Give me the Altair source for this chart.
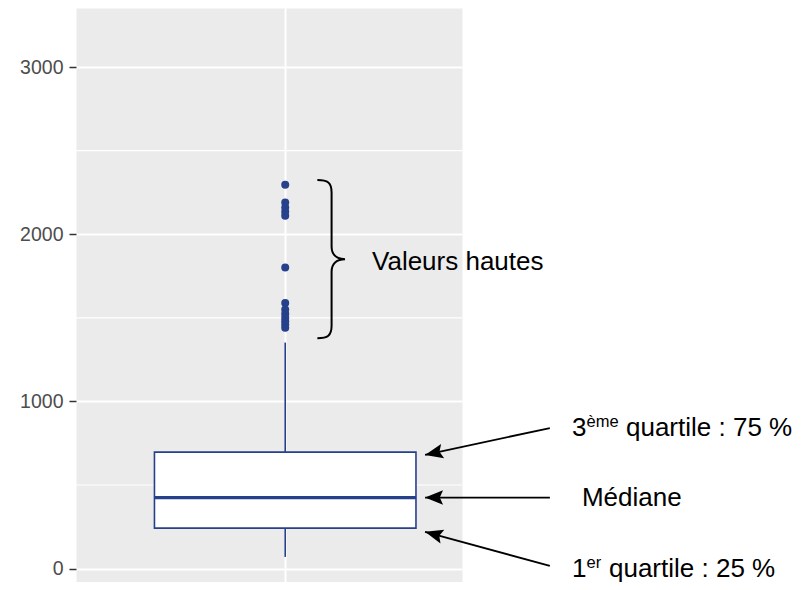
import math
import altair as alt
import pandas as pd

# ---------------- data ----------------
whisker_low = 70
q1 = 242
median = 425
q3 = 697
whisker_high = 1352
outliers = [2296, 2190, 2160, 2135, 2110, 1801, 1588, 1550, 1525, 1500, 1480, 1460, 1440]

category_pos = 1.0      # single discrete position of the box
box_half = 0.375        # half of the box width (data units)

y_major = [0, 1000, 2000, 3000]
y_minor = [500, 1500, 2500]

# annotation texts
txt_high = "Valeurs hautes"
txt_median = "Médiane"
q3_parts = ["3", "ème", "quartile : 75 %"]
q1_parts = ["1", "er", "quartile : 25 %"]

# ---------------- layout ----------------
W, H = 386, 574
x_dom = [0.4, 1.507]
y_dom = [-80, 3353]
kx = W / (x_dom[1] - x_dom[0])
ky = H / (y_dom[1] - y_dom[0])

x_scale = alt.Scale(domain=x_dom, nice=False, zero=False)
y_scale = alt.Scale(domain=y_dom, nice=False, zero=False)

x_axis = alt.Axis(values=[category_pos], grid=True, gridColor="white", gridWidth=2,
                  domain=False, labels=False, tickColor="#333333", tickSize=7,
                  tickWidth=1.5, title=None)
y_axis = alt.Axis(values=y_major, grid=True, gridColor="white", gridWidth=2,
                  domain=False, tickColor="#333333", tickSize=7, tickWidth=1.5,
                  labelFont="Liberation Sans", labelFontSize=19.5, labelColor="#4D4D4D",
                  labelPadding=6, title=None, format="d")

BLUE = "#27408B"
FONT = "Liberation Sans"
FS = 26

# ---------------- layers ----------------
minor = pd.DataFrame({"v": y_minor})
grid_layer = alt.Chart(minor).mark_rule(color="white", strokeWidth=1.2).encode(
    y=alt.Y("v:Q", scale=y_scale, axis=y_axis)
)

whisk = pd.DataFrame({
    "x": [category_pos, category_pos],
    "y": [whisker_low, q3],
    "y2": [q1, whisker_high],
})
whisker_layer = alt.Chart(whisk).mark_rule(color=BLUE, strokeWidth=1.6).encode(
    x=alt.X("x:Q", scale=x_scale, axis=x_axis),
    y=alt.Y("y:Q", scale=y_scale, axis=y_axis),
    y2="y2:Q",
)

box = pd.DataFrame({"x": [category_pos - box_half], "x2": [category_pos + box_half],
                    "y": [q1], "y2": [q3]})
box_layer = alt.Chart(box).mark_rect(fill="white", stroke=BLUE, strokeWidth=1.6).encode(
    x=alt.X("x:Q", scale=x_scale, axis=x_axis), x2="x2:Q",
    y=alt.Y("y:Q", scale=y_scale, axis=y_axis), y2="y2:Q",
)

med = pd.DataFrame({"x": [category_pos - box_half], "x2": [category_pos + box_half],
                    "y": [median]})
median_layer = alt.Chart(med).mark_rule(color=BLUE, strokeWidth=3.2).encode(
    x=alt.X("x:Q", scale=x_scale, axis=x_axis), x2="x2:Q",
    y=alt.Y("y:Q", scale=y_scale, axis=y_axis),
)

outl = pd.DataFrame({"x": [category_pos] * len(outliers), "y": outliers})
outlier_layer = alt.Chart(outl).mark_circle(color=BLUE, size=64, opacity=1).encode(
    x=alt.X("x:Q", scale=x_scale, axis=x_axis),
    y=alt.Y("y:Q", scale=y_scale, axis=y_axis),
)

# curly brace spanning the high values
brace_top, brace_bottom = 2324, 1378
brace_x = 1.133
brace_half_px = (brace_top - brace_bottom) / 2 * ky
brace_path = ("M-0.18,-1 C-0.05,-1 0,-0.97 0,-0.84 L0,-0.16 C0,-0.05 0.07,0 0.17,0 "
              "C0.07,0 0,0.05 0,0.16 L0,0.84 C0,0.97 -0.05,1 -0.18,1")
brace = pd.DataFrame({"x": [brace_x], "y": [(brace_top + brace_bottom) / 2]})
brace_layer = alt.Chart(brace).mark_point(
    shape=brace_path, filled=False, color="black", strokeWidth=2, opacity=1,
    size=(2 * brace_half_px) ** 2,
).encode(
    x=alt.X("x:Q", scale=x_scale, axis=x_axis),
    y=alt.Y("y:Q", scale=y_scale, axis=y_axis),
)

# arrows towards the box
tip_x = category_pos + box_half + 0.026
tail_x = 1.759
arr = pd.DataFrame({
    "x": [tail_x, tail_x, tail_x],
    "y": [841, median, 16],
    "x2": [tip_x, tip_x, tip_x],
    "y2": [q3 - 17, median, q1 - 22],
})
arr["angle"] = [
    math.degrees(math.atan2(-(r.y2 - r.y) * ky, (r.x2 - r.x) * kx)) % 360
    for r in arr.itertuples()
]
shaft_layer = alt.Chart(arr).mark_rule(color="black", strokeWidth=1.8).encode(
    x=alt.X("x:Q", scale=x_scale, axis=x_axis), x2="x2:Q",
    y=alt.Y("y:Q", scale=y_scale, axis=y_axis), y2="y2:Q",
)
head_layer = alt.Chart(arr).mark_point(
    shape="M0,0 L-1,-0.4 L-0.82,0 L-1,0.4 Z", filled=True, color="black",
    opacity=1, size=1296,
).encode(
    x=alt.X("x2:Q", scale=x_scale, axis=x_axis),
    y=alt.Y("y2:Q", scale=y_scale, axis=y_axis),
    angle=alt.Angle("angle:Q", scale=None),
)

# texts
main_txt = pd.DataFrame({
    "t": [txt_high, txt_median],
    "x": [1.2489, 1.851],
    "y": [1786, 374],
})
main_text_layer = alt.Chart(main_txt).mark_text(
    align="left", baseline="alphabetic", font=FONT, fontSize=FS, color="black"
).encode(
    x=alt.X("x:Q", scale=x_scale, axis=x_axis),
    y=alt.Y("y:Q", scale=y_scale, axis=y_axis),
    text="t:N",
)


def sup_label(parts, y_base, x_left, sup_dx, rest_dx):
    d = pd.DataFrame({"t": [parts[0]], "x": [x_left], "y": [y_base]})
    base = alt.Chart(d).mark_text(
        align="left", baseline="alphabetic", font=FONT, fontSize=FS, color="black"
    ).encode(x=alt.X("x:Q", scale=x_scale, axis=x_axis),
             y=alt.Y("y:Q", scale=y_scale, axis=y_axis), text="t:N")
    d2 = pd.DataFrame({"t": [parts[1]], "x": [x_left], "y": [y_base]})
    sup = alt.Chart(d2).mark_text(
        align="left", baseline="alphabetic", font=FONT, fontSize=16.5, color="black",
        dx=sup_dx, dy=-9,
    ).encode(x=alt.X("x:Q", scale=x_scale, axis=x_axis),
             y=alt.Y("y:Q", scale=y_scale, axis=y_axis), text="t:N")
    d3 = pd.DataFrame({"t": [parts[2]], "x": [x_left], "y": [y_base]})
    rest = alt.Chart(d3).mark_text(
        align="left", baseline="alphabetic", font=FONT, fontSize=FS, color="black",
        dx=rest_dx,
    ).encode(x=alt.X("x:Q", scale=x_scale, axis=x_axis),
             y=alt.Y("y:Q", scale=y_scale, axis=y_axis), text="t:N")
    return [base, sup, rest]


q3_layers = sup_label(q3_parts, 793, 1.8224, 14.5, 54)
q1_layers = sup_label(q1_parts, -50, 1.8224, 14.5, 37)

chart = alt.layer(
    grid_layer, whisker_layer, box_layer, median_layer, outlier_layer,
    brace_layer, shaft_layer, head_layer, main_text_layer,
    *q3_layers, *q1_layers,
).properties(
    width=W, height=H,
    background="white",
    autosize=alt.AutoSizeParams(type="none"),
    padding={"left": 68, "top": 0, "right": 336, "bottom": 0},
).configure_view(
    fill="#EBEBEB", stroke="transparent"
)

chart.save("out.html", embed_options={"renderer": "svg", "actions": False})
